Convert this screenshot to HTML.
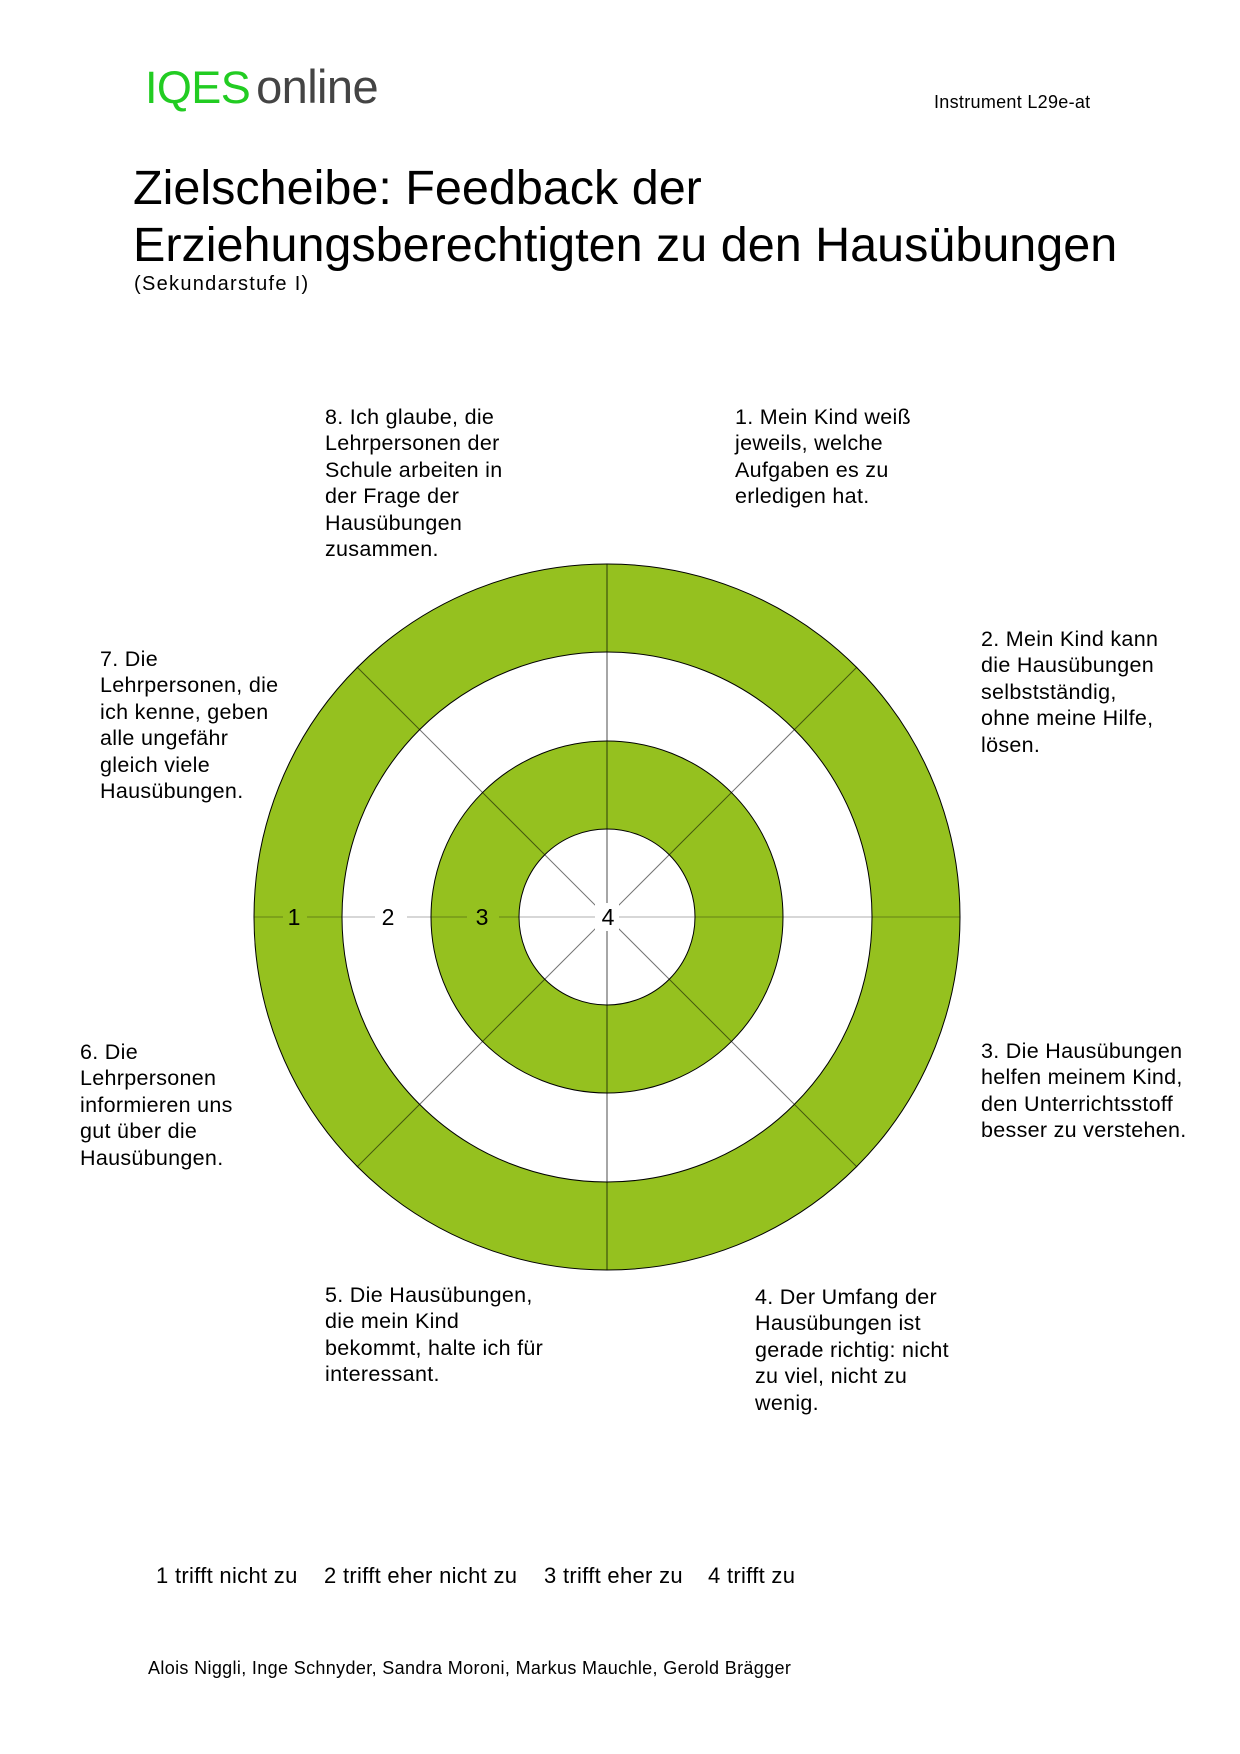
<!DOCTYPE html>
<html><head><meta charset="utf-8"><style>
html,body{margin:0;padding:0;background:#fff}
body{width:1240px;height:1754px;position:relative;overflow:hidden;font-family:"Liberation Sans",Arial,sans-serif;color:#000}
.a{position:absolute;white-space:nowrap}
.q{position:absolute;font-size:21.5px;line-height:26.4px;white-space:nowrap;letter-spacing:0.3px}
</style></head><body>
<div class="a" style="left:145px;top:62px;font-size:45px;line-height:50px;letter-spacing:-0.6px"><span style="color:#22cc22">IQES</span><span style="color:#444;margin-left:6px;font-size:47px">online</span></div>
<div class="a" style="left:934px;top:92px;font-size:18px;line-height:20px;letter-spacing:0.3px">Instrument L29e-at</div>
<div class="a" style="left:133px;top:160px;font-size:48.5px;line-height:57px">Zielscheibe: Feedback der<br>Erziehungsberechtigten zu den Hausübungen</div>
<div class="a" style="left:134px;top:273px;font-size:20px;line-height:22px;letter-spacing:1.3px">(Sekundarstufe I)</div>

<svg class="a" style="left:0;top:0" width="1240" height="1754">
<g transform="translate(607,917)">
<circle r="353" fill="#95c11f" stroke="#000" stroke-width="1"/>
<circle r="265" fill="#fff" stroke="#000" stroke-width="1"/>
<circle r="176" fill="#95c11f" stroke="#000" stroke-width="1"/>
<circle r="88" fill="#fff" stroke="#000" stroke-width="1"/>
<line x1="-353" y1="0" x2="353" y2="0" stroke="#000" stroke-opacity="0.25" stroke-width="1.2"/>
<line x1="0" y1="-353" x2="0" y2="353" stroke="#000" stroke-opacity="0.7" stroke-width="1"/>
<line x1="-250" y1="-250" x2="250" y2="250" stroke="#000" stroke-opacity="0.55" stroke-width="1"/>
<line x1="-250" y1="250" x2="250" y2="-250" stroke="#000" stroke-opacity="0.55" stroke-width="1"/>
<rect x="-324" y="-12" width="24" height="24" fill="#95c11f"/>
<rect x="-232" y="-12" width="32" height="24" fill="#fff"/>
<rect x="-140" y="-12" width="32" height="24" fill="#95c11f"/>
<rect x="-12" y="-14" width="24" height="28" fill="#fff"/>
<g font-size="23" text-anchor="middle" font-family="Liberation Sans, Arial, sans-serif">
<text x="-313" y="8">1</text><text x="-219" y="8">2</text><text x="-125" y="8">3</text><text x="1" y="8">4</text>
</g>
</g>
</svg>

<div class="q" style="left:325px;top:404px">8. Ich glaube, die<br>Lehrpersonen der<br>Schule arbeiten in<br>der Frage der<br>Hausübungen<br>zusammen.</div>
<div class="q" style="left:735px;top:404px">1. Mein Kind weiß<br>jeweils, welche<br>Aufgaben es zu<br>erledigen hat.</div>
<div class="q" style="left:981px;top:626px">2. Mein Kind kann<br>die Hausübungen<br>selbstständig,<br>ohne meine Hilfe,<br>lösen.</div>
<div class="q" style="left:100px;top:646px">7. Die<br>Lehrpersonen, die<br>ich kenne, geben<br>alle ungefähr<br>gleich viele<br>Hausübungen.</div>
<div class="q" style="left:80px;top:1039px">6. Die<br>Lehrpersonen<br>informieren uns<br>gut über die<br>Hausübungen.</div>
<div class="q" style="left:981px;top:1038px">3. Die Hausübungen<br>helfen meinem Kind,<br>den Unterrichtsstoff<br>besser zu verstehen.</div>
<div class="q" style="left:325px;top:1282px">5. Die Hausübungen,<br>die mein Kind<br>bekommt, halte ich für<br>interessant.</div>
<div class="q" style="left:755px;top:1284px">4. Der Umfang der<br>Hausübungen ist<br>gerade richtig: nicht<br>zu viel, nicht zu<br>wenig.</div>

<div class="a" style="left:156px;top:1563px;font-size:22px;line-height:26px;letter-spacing:0.3px">1 trifft nicht zu</div>
<div class="a" style="left:324px;top:1563px;font-size:22px;line-height:26px;letter-spacing:0.3px">2 trifft eher nicht zu</div>
<div class="a" style="left:544px;top:1563px;font-size:22px;line-height:26px;letter-spacing:0.3px">3 trifft eher zu</div>
<div class="a" style="left:708px;top:1563px;font-size:22px;line-height:26px;letter-spacing:0.3px">4 trifft zu</div>
<div class="a" style="left:148px;top:1657px;font-size:18px;line-height:22px;letter-spacing:0.35px">Alois Niggli, Inge Schnyder, Sandra Moroni, Markus Mauchle, Gerold Brägger</div>
</body></html>
